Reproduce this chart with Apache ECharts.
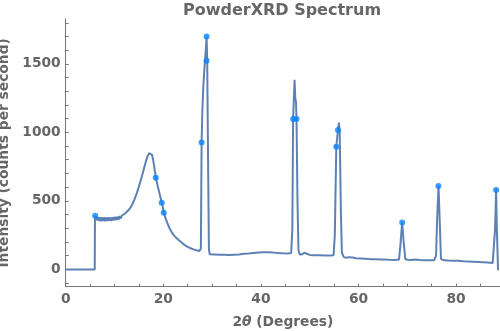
<!DOCTYPE html>
<html>
<head>
<meta charset="utf-8">
<script src="https://cdn.jsdelivr.net/npm/echarts@6/dist/echarts.min.js"></script>
<style>
  html, body { margin: 0; padding: 0; background: #fff; }
  #chart { width: 500px; height: 331px; }
</style>
</head>
<body>
<div id="chart"></div>
<script>
// Scan angle (2θ, degrees) and measured intensity (counts per second)
const twoTheta = [
  0, 5.95, 6.0,
  6.1, 6.3, 6.5, 6.7, 6.9, 7.1, 7.3, 7.5, 7.7, 7.9, 8.1, 8.3, 8.5, 8.7, 8.9,
  9.1, 9.3, 9.5, 9.7, 9.9, 10.1, 10.3, 10.5, 10.7, 10.9, 11.1, 11.3, 11.5, 11.8, 12.1,
  12.5, 12.9, 13.3, 13.7, 14.1, 14.5, 14.9, 15.3, 15.7, 16.1, 16.5, 16.8, 17.1, 17.4, 17.7,
  18.0, 18.3, 18.6, 18.9, 19.2, 19.5, 19.8, 20.1, 20.4, 20.8, 21.2, 21.7, 22.2, 22.7, 23.2,
  23.8, 24.4, 25.0, 25.6, 26.2, 26.8, 27.4, 27.7,
  27.85, 28.0, 28.2, 28.5, 28.7, 28.87, 28.95, 29.0, 29.2, 29.35, 29.5,
  29.8, 30.5, 31.5, 32.5, 33.5, 34.5, 35.5, 36.5, 37.5, 38.5, 39.5, 40.5, 41.5, 42.5,
  43.5, 44.5, 45.5, 46.2,
  46.45, 46.6, 46.9, 47.05, 47.2, 47.3, 47.5, 47.7, 47.95,
  48.4, 48.9, 49.3, 50.0, 51.0, 52.0, 53.0, 54.0, 54.9,
  55.15, 55.45, 55.8, 56.0, 56.15, 56.4, 56.6,
  57.0, 57.5, 58.0, 58.4, 58.8, 59.5, 60.5, 61.5, 62.5, 63.5, 64.5, 65.5, 66.5, 67.5, 68.3,
  68.6, 68.95, 69.25, 69.6,
  70.2, 70.8, 71.5, 72.5, 73.5, 74.5, 75.5,
  75.9, 76.1, 76.4, 76.7, 76.9,
  77.5, 78.5, 79.5, 80.5, 81.5, 82.5, 83.5, 84.5, 85.5, 86.5, 87.5,
  87.8, 88.0, 88.2, 88.35, 88.6
];
const intensity = [
  -3, -3, 390,
  360, 385, 355, 382, 352, 380, 350, 378, 352, 380, 350, 378, 353, 380, 355,
  378, 352, 380, 356, 381, 358, 382, 360, 385, 364, 388, 370, 392, 385, 405,
  415, 432, 452, 478, 510, 548, 592, 640, 690, 745, 795, 828, 848, 852, 836,
  782, 712, 648, 600, 556, 512, 470, 420, 378, 340, 305, 272, 245, 228, 212,
  193, 176, 163, 153, 145, 138, 133, 150,
  925, 1150, 1335, 1506, 1600, 1700, 1600, 1525, 700, 150, 110,
  112, 108, 106, 105, 104, 106, 108, 112, 115, 119, 122, 124, 123, 121,
  118, 116, 115, 118,
  300, 1096, 1383, 1250, 1220, 1096, 500, 140, 107,
  108, 120, 110, 104, 102, 101, 100, 100, 102,
  250, 895, 1017, 1071, 1000, 400, 120,
  88, 84, 88, 97, 86, 80, 78, 76, 73, 72, 71, 70, 68, 67, 70,
  180, 342, 200, 72,
  68, 67, 71, 67, 66, 66, 66,
  100, 350, 610, 300, 75,
  65, 63, 62, 61, 58, 56, 54, 52, 50, 48, 46,
  60, 300, 583, 300, -8
];

// Marked peak positions
const peakTheta = [6.03, 18.45, 19.67, 20.08, 27.85, 28.87, 28.87, 46.6, 47.3, 55.45, 55.8, 68.96, 76.38, 88.2];
const peakIntensity = [390, 668, 485, 412, 925, 1700, 1523, 1098, 1098, 895, 1017, 342, 607, 578];

// Axis ticks and labels
const xLabelValues = [0, 20, 40, 60, 80];
const xTickValues = [0, 5, 10, 15, 20, 25, 30, 35, 40, 45, 50, 55, 60, 65, 70, 75, 80, 85];
const yLabelValues = [0, 500, 1000, 1500];
const yTickValues = [-100, 0, 100, 200, 300, 400, 500, 600, 700, 800, 900, 1000,
  1100, 1200, 1300, 1400, 1500, 1600, 1700, 1800];

const textGray = '#666666';
const axisGray = '#777777';
const font = '"DejaVu Sans", sans-serif';
const plain = v => String(v);

const chart = echarts.init(document.getElementById('chart'), null, { renderer: 'canvas' });
chart.setOption({
  animation: false,
  backgroundColor: '#ffffff',
  title: {
    text: 'PowderXRD Spectrum',
    left: 282,
    top: 3,
    padding: 0,
    textAlign: 'center',
    textStyle: { fontFamily: font, fontWeight: 'bold', fontSize: 16, color: textGray }
  },
  grid: { left: 65.7, right: 0, top: 19, bottom: 44.3, containLabel: false, outerBoundsMode: 'none' },
  xAxis: {
    type: 'value',
    min: 0,
    max: 89,
    name: '2{i|θ} (Degrees)',
    nameLocation: 'middle',
    nameGap: 29,
    nameTextStyle: {
      fontFamily: font, fontWeight: 'bold', fontSize: 13.8, color: textGray,
      rich: { i: { fontFamily: font, fontWeight: 'bold', fontStyle: 'italic', fontSize: 13.8, color: textGray } }
    },
    axisLine: { show: true, onZero: false, lineStyle: { color: axisGray, width: 1 } },
    axisTick: { show: true, inside: true, length: 3, customValues: xTickValues, lineStyle: { color: axisGray } },
    axisLabel: {
      customValues: xLabelValues, margin: 6, formatter: plain,
      fontFamily: font, fontWeight: 'bold', fontSize: 13.8, color: textGray
    },
    splitLine: { show: false }
  },
  yAxis: {
    type: 'value',
    min: -128,
    max: 1828,
    name: 'Intensity (counts per second)',
    nameLocation: 'middle',
    nameRotate: 90,
    nameGap: 49,
    nameTextStyle: { fontFamily: font, fontWeight: 'bold', fontSize: 13.8, color: textGray },
    axisLine: { show: true, onZero: false, lineStyle: { color: axisGray, width: 1 } },
    axisTick: { show: true, inside: true, length: 3, customValues: yTickValues, lineStyle: { color: axisGray } },
    axisLabel: {
      customValues: yLabelValues, margin: 5, formatter: plain,
      fontFamily: font, fontWeight: 'bold', fontSize: 13.8, color: textGray
    },
    splitLine: { show: false }
  },
  series: [
    {
      type: 'line',
      data: twoTheta.map((t, i) => [t, intensity[i]]),
      showSymbol: false,
      lineStyle: { color: '#5E81B5', width: 2 },
      z: 2
    },
    {
      type: 'scatter',
      data: peakTheta.map((t, i) => [t, peakIntensity[i]]),
      symbolSize: 6,
      itemStyle: { color: '#0A84FF' },
      z: 3
    }
  ]
});
</script>
</body>
</html>
